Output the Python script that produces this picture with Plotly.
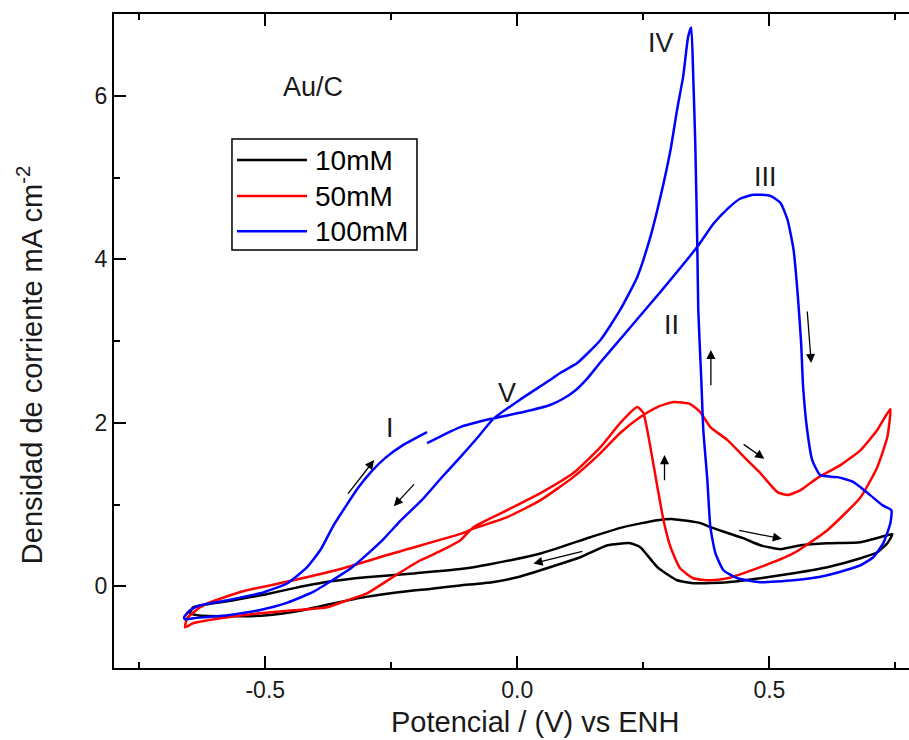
import plotly.graph_objects as go

# ---- data (potential V vs ENH, current density mA cm^-2), traversed in scan order ----
x_10mM = [-0.649, -0.643, -0.563, -0.500, -0.440, -0.370, -0.300, -0.200, -0.113, -0.054, 0.046,
          0.145, 0.210, 0.278, 0.310, 0.363, 0.383, 0.448, 0.482, 0.522, 0.562, 0.615, 0.681,
          0.720, 0.744,
          0.734, 0.714, 0.681, 0.615, 0.548, 0.482, 0.417, 0.349, 0.317, 0.278, 0.244, 0.224,
          0.179, 0.125, 0.046, 0.000, -0.050, -0.113, -0.170, -0.232, -0.300, -0.365, -0.431,
          -0.496, -0.569, -0.635, -0.649]
y_10mM = [-0.331, -0.257, -0.171, -0.100, -0.020, 0.060, 0.110, 0.160, 0.210, 0.270, 0.400,
          0.600, 0.723, 0.808, 0.821, 0.772, 0.723, 0.588, 0.502, 0.453, 0.502, 0.527, 0.539,
          0.600, 0.637,
          0.527, 0.416, 0.343, 0.233, 0.159, 0.098, 0.049, 0.037, 0.073, 0.233, 0.478, 0.527,
          0.502, 0.355, 0.196, 0.110, 0.050, 0.010, -0.030, -0.070, -0.130, -0.210, -0.300,
          -0.355, -0.367, -0.355, -0.331]

x_50mM = [-0.659, -0.655, -0.629, -0.609, -0.544, -0.444, -0.345, -0.246, -0.113, -0.087, -0.020,
          0.046, 0.111, 0.165, 0.204, 0.244, 0.278, 0.310, 0.343, 0.363, 0.383, 0.417, 0.456,
          0.482, 0.516, 0.536, 0.562, 0.595, 0.641, 0.681, 0.714, 0.740,
          0.734, 0.714, 0.681, 0.615, 0.548, 0.482, 0.417, 0.383, 0.349, 0.323, 0.304, 0.290,
          0.278, 0.264, 0.250, 0.238, 0.204, 0.165, 0.111, 0.046, -0.020, -0.087, -0.113,
          -0.153, -0.192, -0.238, -0.298, -0.337, -0.377, -0.444, -0.510, -0.575, -0.643, -0.659]
y_50mM = [-0.502, -0.392, -0.257, -0.196, -0.061, 0.073, 0.220, 0.404, 0.640, 0.705, 0.845,
          1.053, 1.335, 1.629, 1.874, 2.070, 2.192, 2.254, 2.229, 2.131, 1.947, 1.788, 1.543,
          1.384, 1.151, 1.115, 1.176, 1.323, 1.482, 1.666, 1.911, 2.168,
          1.825, 1.457, 1.090, 0.686, 0.404, 0.233, 0.098, 0.073, 0.098, 0.220, 0.478, 0.808,
          1.212, 1.702, 2.119, 2.192, 1.996, 1.702, 1.384, 1.139, 0.931, 0.723, 0.563,
          0.429, 0.318, 0.147, -0.086, -0.171, -0.257, -0.294, -0.331, -0.380, -0.453, -0.502]

x_100mM = [-0.179, -0.143, -0.113, -0.054, 0.012, 0.065, 0.090, 0.115, 0.140, 0.165, 0.218,
           0.284, 0.357, 0.389, 0.417, 0.442, 0.468, 0.502, 0.522, 0.536, 0.548, 0.556, 0.563,
           0.567, 0.575, 0.585, 0.601, 0.635, 0.667, 0.700, 0.724, 0.742,
           0.740, 0.726, 0.706, 0.681, 0.615, 0.548, 0.482, 0.437, 0.409, 0.393, 0.383, 0.377,
           0.369, 0.365, 0.359, 0.357, 0.353, 0.349, 0.345, 0.339, 0.329, 0.317, 0.304, 0.284,
           0.264, 0.238, 0.204, 0.165, 0.119, 0.085, 0.065, 0.006, -0.048, -0.080, -0.113,
           -0.150, -0.190, -0.232, -0.265, -0.298, -0.330, -0.365, -0.405, -0.456, -0.510,
           -0.575, -0.643, -0.659,
           -0.661, -0.649, -0.629, -0.575, -0.510, -0.456, -0.417, -0.390, -0.365, -0.340,
           -0.315, -0.290, -0.260, -0.226, -0.179]
y_100mM = [1.751, 1.862, 1.947, 2.045, 2.131, 2.217, 2.290, 2.395, 2.550, 2.740, 3.123,
           3.601, 4.152, 4.434, 4.617, 4.740, 4.789, 4.776, 4.690, 4.483, 4.115, 3.589, 2.976,
           2.437, 1.911, 1.543, 1.359, 1.335, 1.274, 1.115, 0.992, 0.931,
           0.772, 0.527, 0.355, 0.257, 0.135, 0.073, 0.049, 0.098, 0.196, 0.404, 0.723, 1.298,
           1.911, 2.523, 3.380, 4.201, 5.426, 6.234, 6.834, 6.724, 6.234, 5.830, 5.340, 4.764,
           4.274, 3.784, 3.380, 3.013, 2.731, 2.609, 2.523, 2.285, 2.045, 1.810, 1.580,
           1.330, 1.050, 0.800, 0.580, 0.390, 0.220, 0.080, -0.070, -0.200, -0.290,
           -0.355, -0.392, -0.404,
           -0.380, -0.294, -0.233, -0.171, -0.086, 0.037, 0.233, 0.450, 0.740, 0.980,
           1.210, 1.400, 1.580, 1.730, 1.886]

series_names = ["10mM", "50mM", "100mM"]
series_colors = ["#000000", "#ff0000", "#0000ff"]

x_tick_vals = [-0.5, 0.0, 0.5]
x_tick_text = ["-0.5", "0.0", "0.5"]
y_tick_vals = [0, 2, 4, 6]
y_tick_text = ["0", "2", "4", "6"]

peak_labels = ["I", "II", "III", "IV", "V"]
peak_x = [-0.253, 0.306, 0.492, 0.285, -0.020]
peak_y = [1.93, 3.20, 5.01, 6.65, 2.37]

# arrows: (tail x, tail y) -> (head x, head y)
arrow_tail_x = [-0.338, -0.202, 0.132, 0.292, 0.446, 0.437, 0.384, 0.575]
arrow_tail_y = [1.115, 1.265, 0.432, 1.278, 1.748, 0.686, 2.44, 3.38]
arrow_head_x = [-0.284, -0.245, 0.032, 0.292, 0.490, 0.525, 0.384, 0.583]
arrow_head_y = [1.543, 0.980, 0.278, 1.604, 1.559, 0.580, 2.89, 2.73]

FONT = "Arial, Liberation Sans, sans-serif"
TEXT = "#1a1a1a"

fig = go.Figure()
for xs, ys, name, col in zip([x_10mM, x_50mM, x_100mM], [y_10mM, y_50mM, y_100mM],
                             series_names, series_colors):
    fig.add_trace(go.Scatter(x=xs, y=ys, mode="lines", name=name, showlegend=False,
                             line=dict(color=col, width=2.5, shape="spline", smoothing=0.5)))

for t, px_, py_ in zip(peak_labels, peak_x, peak_y):
    fig.add_annotation(x=px_, y=py_, text=t, showarrow=False,
                       font=dict(family=FONT, size=27, color=TEXT))

fig.add_annotation(x=-0.405, y=6.11, text="Au/C", showarrow=False,
                   font=dict(family=FONT, size=27, color=TEXT))

for tx, ty, hx, hy in zip(arrow_tail_x, arrow_tail_y, arrow_head_x, arrow_head_y):
    fig.add_annotation(x=hx, y=hy, ax=tx, ay=ty, xref="x", yref="y", axref="x", ayref="y",
                       text="", showarrow=True, arrowhead=2, arrowsize=1.4, arrowwidth=1.3,
                       arrowcolor="#000000")

# axis titles as annotations for precise placement
fig.add_annotation(x=0.036, y=-0.083, xref="x", yref="paper", xanchor="center",
                   yanchor="middle", text="Potencial / (V) vs ENH",
                   showarrow=False, font=dict(family=FONT, size=29, color=TEXT))
fig.add_annotation(x=-0.1057, y=0.463, xref="paper", yref="paper", xanchor="center",
                   yanchor="middle",
                   text="Densidad de corriente mA cm<sup>-2</sup>", textangle=-90,
                   showarrow=False, font=dict(family=FONT, size=29, color=TEXT))

# legend box (drawn in paper coordinates)
leg_x0, leg_x1, leg_y0, leg_y1 = 0.1484, 0.3811, 0.639, 0.8088
leg_line_x0, leg_line_x1, leg_text_x = 0.1547, 0.2428, 0.2503
leg_rows_y = [0.7767, 0.7216, 0.668]
fig.add_shape(type="rect", xref="paper", yref="paper", x0=leg_x0, x1=leg_x1, y0=leg_y0,
              y1=leg_y1, line=dict(color="#000000", width=1.5), fillcolor="white", layer="above")
for name, col, ry in zip(series_names, series_colors, leg_rows_y):
    fig.add_shape(type="line", xref="paper", yref="paper", x0=leg_line_x0, x1=leg_line_x1,
                  y0=ry, y1=ry, line=dict(color=col, width=2.5), layer="above")
    fig.add_annotation(x=leg_text_x, y=ry, xref="paper", yref="paper", xanchor="left",
                       yanchor="middle", text=name, showarrow=False,
                       font=dict(family=FONT, size=28, color="#000000"))

fig.update_layout(
    width=909, height=740,
    margin=dict(l=114, r=0, t=14, b=72),
    paper_bgcolor="white", plot_bgcolor="white",
    showlegend=False,
    font=dict(family=FONT, color=TEXT),
)
fig.update_xaxes(range=[-0.80, 0.777], showgrid=False, zeroline=False,
                 showline=True, linecolor="#000000", linewidth=2, mirror="ticks",
                 ticks="inside", ticklen=12, tickwidth=2, tickcolor="#000000",
                 tickvals=x_tick_vals, ticktext=x_tick_text,
                 tickfont=dict(family=FONT, size=23, color=TEXT),
                 minor=dict(dtick=0.25, tick0=-0.75, ticks="inside", ticklen=6,
                            tickwidth=2, tickcolor="#000000", showgrid=False))
fig.update_yaxes(range=[-1, 7], showgrid=False, zeroline=False,
                 showline=True, linecolor="#000000", linewidth=2, mirror=False,
                 ticks="inside", ticklen=12, tickwidth=2, tickcolor="#000000",
                 tickvals=y_tick_vals, ticktext=y_tick_text,
                 tickfont=dict(family=FONT, size=23, color=TEXT),
                 minor=dict(dtick=1, tick0=-1, ticks="inside", ticklen=6,
                            tickwidth=2, tickcolor="#000000", showgrid=False))

fig.write_html("out.html")
